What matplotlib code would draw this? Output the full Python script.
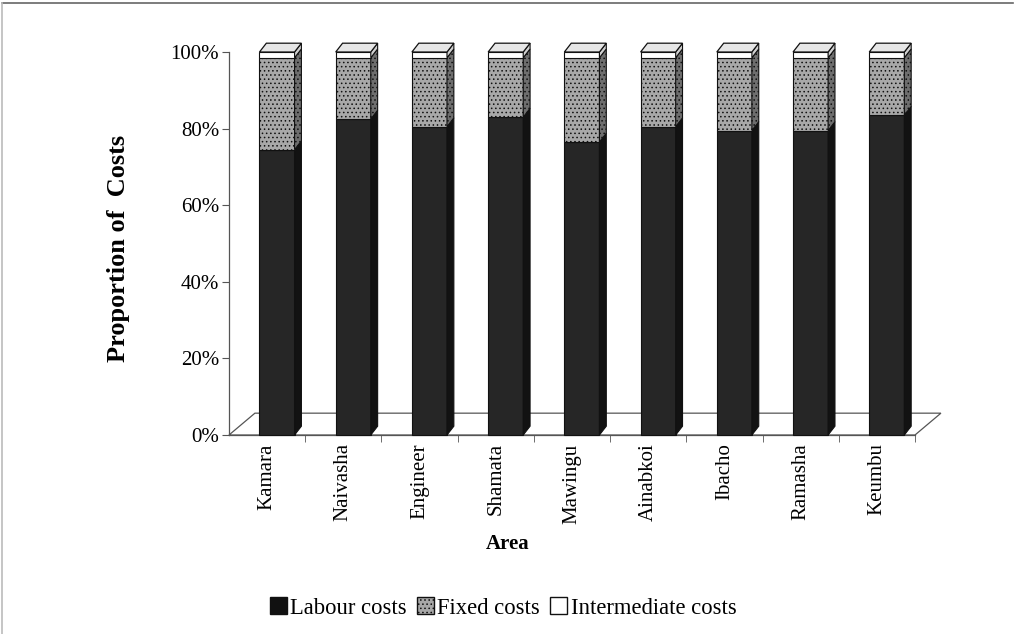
import matplotlib
matplotlib.use("Agg")
import matplotlib.pyplot as plt
from matplotlib.patches import Polygon, Patch
from matplotlib.lines import Line2D
import numpy as np

areas = ["Kamara", "Naivasha", "Engineer", "Shamata", "Mawingu",
         "Ainabkoi", "Ibacho", "Ramasha", "Keumbu"]
labour = [74.5, 82.5, 80.5, 83.0, 76.5, 80.5, 79.5, 79.5, 83.5]
intermediate = [1.5, 1.5, 1.5, 1.5, 1.5, 1.5, 1.5, 1.5, 1.5]
fixed = [100 - l - m for l, m in zip(labour, intermediate)]
yticks = [0, 20, 40, 60, 80, 100]
ytick_labels = ["0%", "20%", "40%", "60%", "80%", "100%"]
series_names = ["Labour costs", "Fixed costs", "Intermediate costs"]

plt.rcParams["font.family"] = ["Liberation Serif", "DejaVu Serif"]
plt.rcParams["hatch.linewidth"] = 0.6

W, H = 1015, 634
fig = plt.figure(figsize=(W / 100, H / 100), dpi=100)

ax_left, ax_right = 229, 915
ax_bottom_px, ax_top_px = 435, 52
ax = fig.add_axes([ax_left / W, 1 - ax_bottom_px / H,
                   (ax_right - ax_left) / W, (ax_bottom_px - ax_top_px) / H])
ax.set_xlim(-0.5, len(areas) - 0.5)
ax.set_ylim(0, 100)

# 3D-look parameters (data units)
shift = 0.13
width = 0.46
dx, dy = 0.09, 2.3
fdx, fdy = 0.34, 5.7

face = {"lab": "#262626", "fix": "#a8a8a8", "int": "#ffffff"}
side = {"lab": "#121212", "fix": "#6e6e6e", "int": "#d0d0d0"}

# floor
floor = Polygon([(-0.5, 0), (-0.5 + fdx, fdy), (len(areas) - 0.5 + fdx, fdy),
                 (len(areas) - 0.5, 0)], closed=True, facecolor="white",
                edgecolor="#555555", lw=0.9, clip_on=False, zorder=1)
ax.add_patch(floor)

x = np.arange(len(areas)) + shift
lab = np.array(labour)
fix = np.array(fixed)
inter = np.array(intermediate)

segs = [("lab", np.zeros_like(lab), lab, None),
        ("fix", lab, lab + fix, "...."),
        ("int", lab + fix, lab + fix + inter, None)]

for key, b, t, hatch in segs:
    ax.bar(x, t - b, bottom=b, width=width, color=face[key],
           edgecolor="#111111", lw=0.8, hatch=hatch, zorder=3, clip_on=False)
    for xi, bi, ti in zip(x, b, t):
        xr = xi + width / 2
        poly = Polygon([(xr, bi), (xr + dx, bi + dy), (xr + dx, ti + dy), (xr, ti)],
                       closed=True, facecolor=side[key], edgecolor="#111111",
                       lw=0.8, hatch=hatch, zorder=3, clip_on=False)
        ax.add_patch(poly)

top = lab + fix + inter
for xi, ti in zip(x, top):
    xl, xr = xi - width / 2, xi + width / 2
    poly = Polygon([(xl, ti), (xl + dx, ti + dy), (xr + dx, ti + dy), (xr, ti)],
                   closed=True, facecolor="#e6e6e6", edgecolor="#111111",
                   lw=0.9, zorder=4, clip_on=False)
    ax.add_patch(poly)

for s in ["top", "right"]:
    ax.spines[s].set_visible(False)
ax.spines["left"].set_color("#555555")
ax.spines["bottom"].set_color("#555555")
ax.spines["left"].set_linewidth(0.9)
ax.spines["bottom"].set_linewidth(0.9)

ax.set_yticks(yticks)
ax.set_yticklabels(ytick_labels, fontsize=15)
ax.tick_params(axis="y", direction="out", length=5, color="#555555", pad=2)

ax.set_xticks(np.arange(len(areas)))
ax.set_xticklabels(areas, rotation=90, fontsize=15)
ax.tick_params(axis="x", which="major", length=0, pad=6)
ax.set_xticks(np.arange(len(areas)) + 0.5, minor=True)
ax.tick_params(axis="x", which="minor", direction="out", length=5, color="#555555")

fig.text(118 / W, 1 - 248 / H, "Proportion of  Costs", rotation=90,
         ha="center", va="center", fontsize=19, fontweight="bold")
fig.text(508 / W, 1 - 544 / H, "Area", ha="center", va="center",
         fontsize=15, fontweight="bold")

handles = [Patch(facecolor="#111111", edgecolor="#111111"),
           Patch(facecolor="#a8a8a8", edgecolor="#111111", hatch="...."),
           Patch(facecolor="white", edgecolor="#111111")]
leg = fig.legend(handles, series_names, loc="center",
                 bbox_to_anchor=(503 / W, 1 - 608 / H), ncol=3, frameon=False,
                 fontsize=16.3, handlelength=0.75, handleheight=0.75,
                 handletextpad=0.15, columnspacing=0.45)

# outer frame lines (top and left)
fig.add_artist(Line2D([0.002, 0.998], [0.996, 0.996], color="#666666", lw=1.2,
                      transform=fig.transFigure))
fig.add_artist(Line2D([0.002, 0.002], [0.0, 0.996], color="#bbbbbb", lw=1.2,
                      transform=fig.transFigure))

fig.savefig("out.png", dpi=100)
